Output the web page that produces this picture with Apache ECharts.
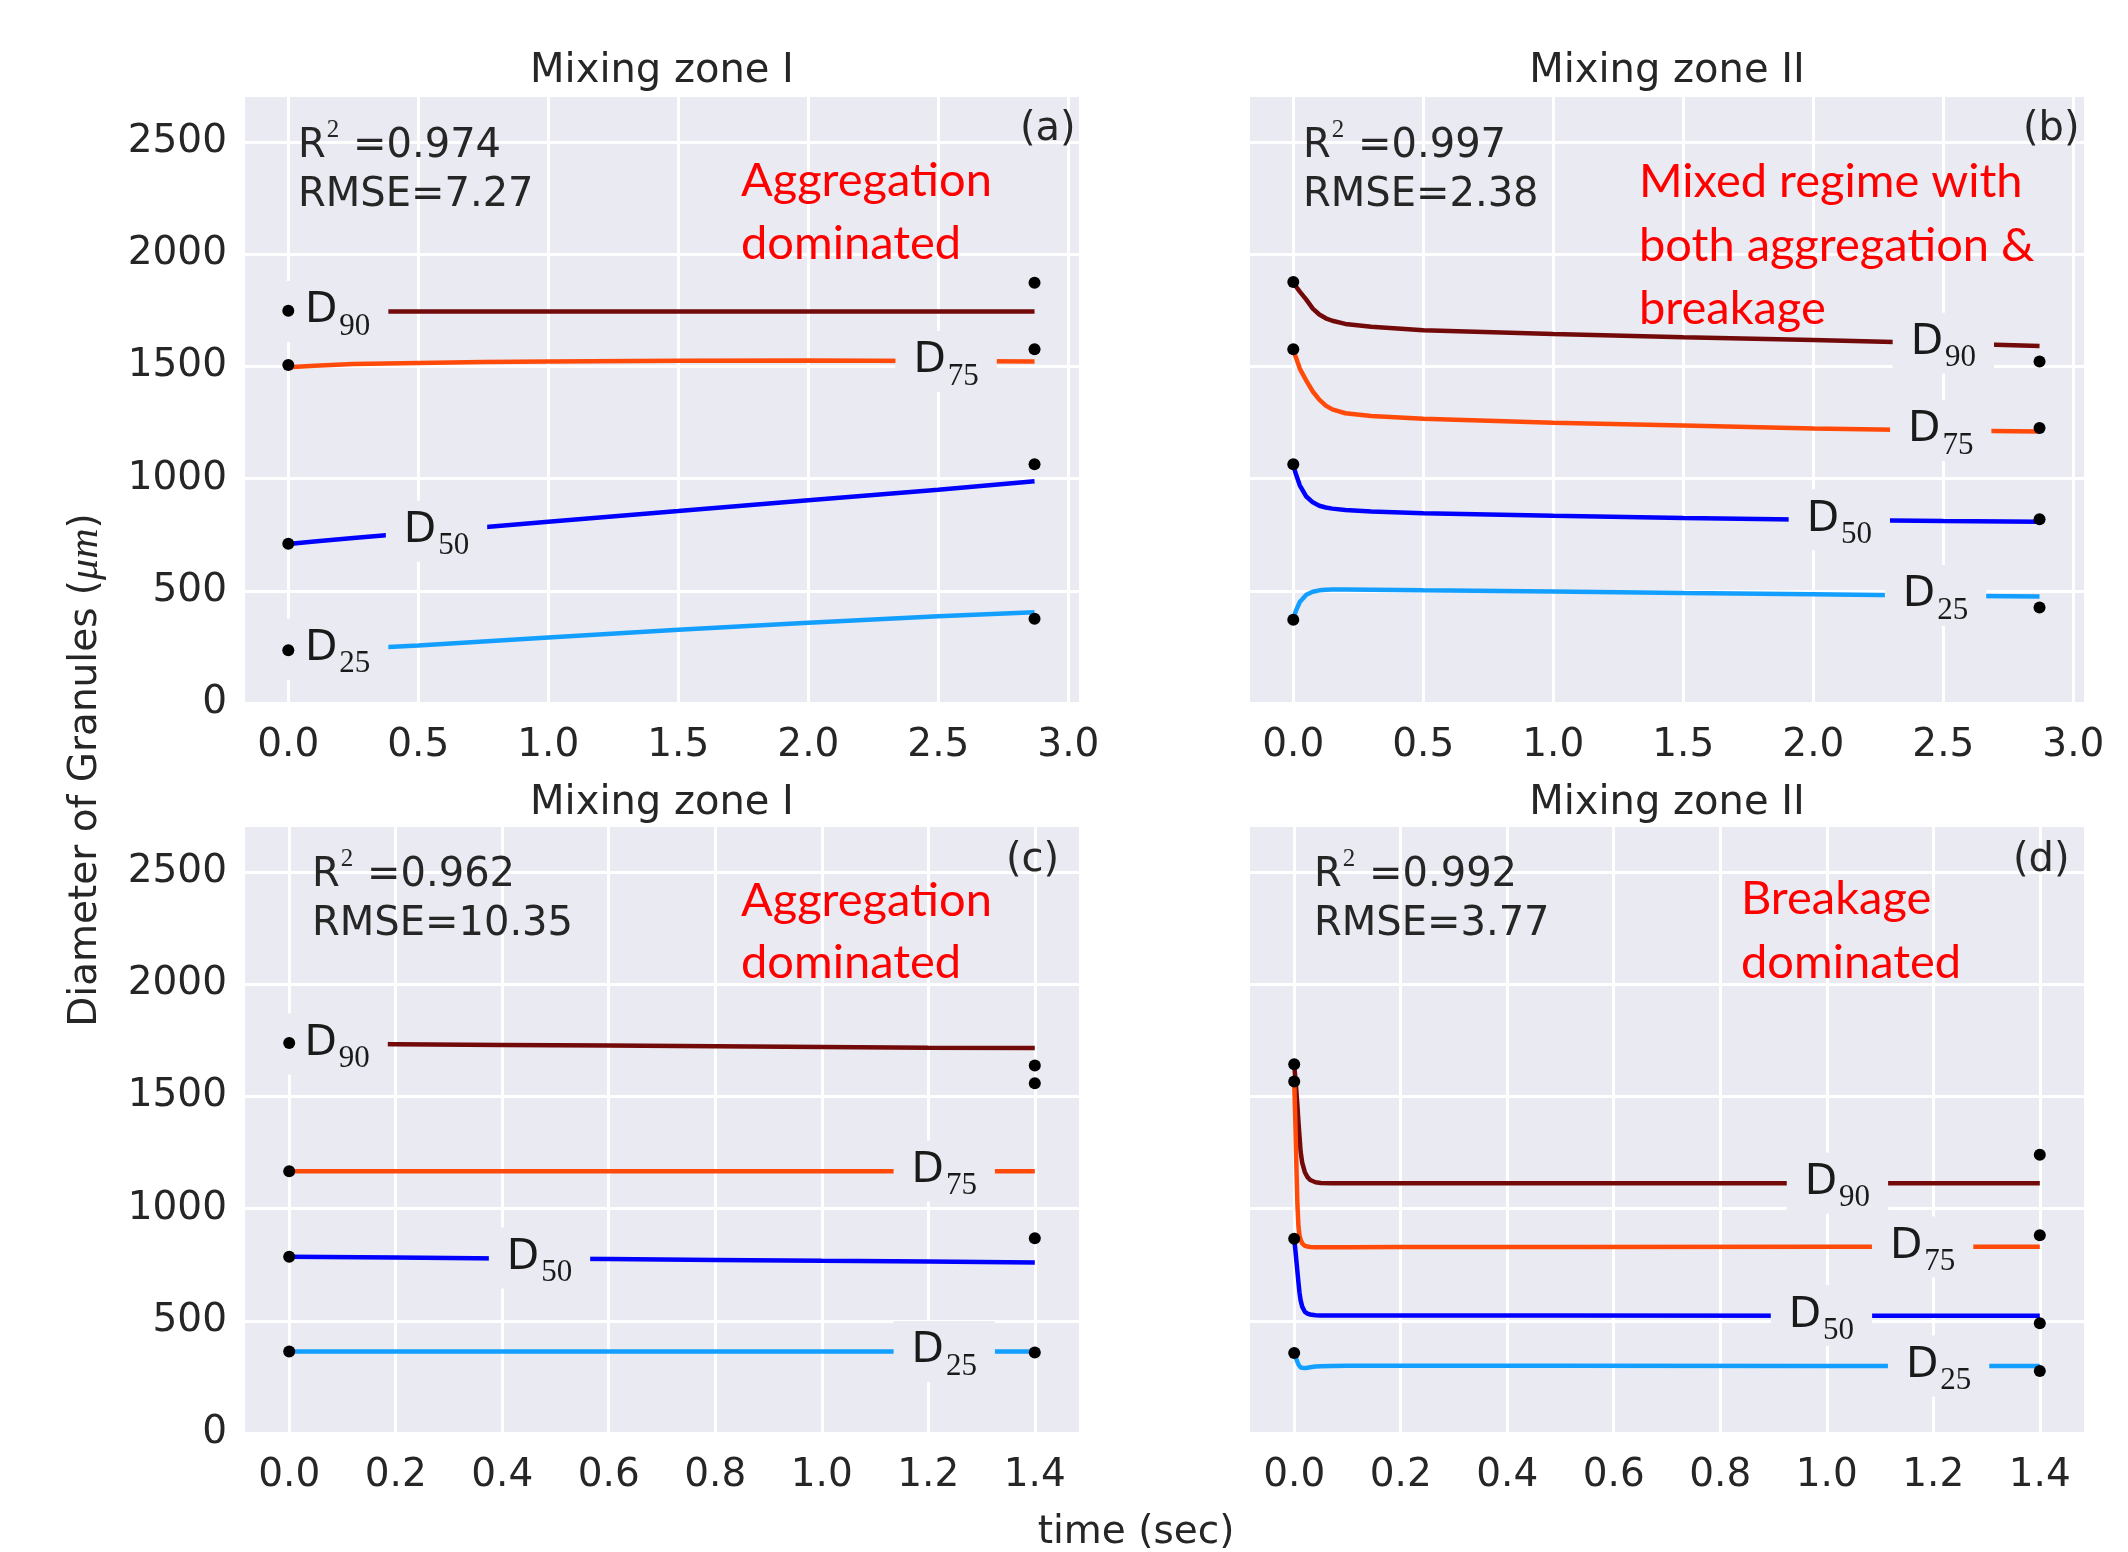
<!DOCTYPE html>
<html><head><meta charset="utf-8">
<script src="https://cdn.jsdelivr.net/npm/echarts@6.0.0/dist/echarts.min.js"></script>
<style>html,body{margin:0;padding:0;background:#fff}#c{width:2128px;height:1552px}</style>
</head><body><div id="c"></div><script>
// ---------- data ----------
const panelTitles = ['Mixing zone I', 'Mixing zone II', 'Mixing zone I', 'Mixing zone II'];
const panelLetters = ['(a)', '(b)', '(c)', '(d)'];
const r2Text = ['0.974', '0.997', '0.962', '0.992'];
const rmseText = ['7.27', '2.38', '10.35', '3.77'];
const regimeText = [
  ['Aggregation', 'dominated'],
  ['Mixed regime with', 'both aggregation &', 'breakage'],
  ['Aggregation', 'dominated'],
  ['Breakage', 'dominated']
];
const seriesNames = ['90', '75', '50', '25'];
const xTicksTop = [0, 0.5, 1.0, 1.5, 2.0, 2.5, 3.0];
const xTicksBottom = [0, 0.2, 0.4, 0.6, 0.8, 1.0, 1.2, 1.4];
const yTicks = [0, 500, 1000, 1500, 2000, 2500];

// panel (a)
const tA = [0, 0.1, 0.25, 0.5, 0.75, 1.0, 1.5, 2.0, 2.5, 2.87];
const aD90 = [1744, 1744, 1744, 1744, 1744, 1744, 1744, 1744, 1744, 1744];
const aD75 = [1496, 1503, 1510, 1515, 1519, 1522, 1525, 1526, 1524, 1522];
const aD50 = [708, 720, 735, 760, 783, 808, 855, 903, 950, 988];
const aD25 = [232, 236, 242, 256, 274, 292, 326, 358, 387, 404];
// panel (b)
const tB = [0, 0.01, 0.025, 0.05, 0.075, 0.1, 0.125, 0.15, 0.2, 0.3, 0.5, 1.0, 1.5, 2.0, 2.5, 2.87];
const bD90 = [1870, 1856, 1833, 1797, 1757, 1731, 1714, 1703, 1689, 1676, 1661, 1644, 1630, 1617, 1603, 1591];
const bD75 = [1570, 1540, 1490, 1436, 1388, 1352, 1325, 1308, 1291, 1279, 1266, 1249, 1236, 1223, 1214, 1210];
const bD50 = [1060, 1020, 970, 920, 894, 879, 871, 866, 860, 853, 845, 834, 824, 816, 811, 808];
const bD25 = [375, 410, 450, 482, 496, 502, 505, 506, 506, 505, 502, 497, 490, 484, 478, 474];
// panel (c)
const tC = [0, 0.2, 0.4, 0.6, 0.8, 1.0, 1.2, 1.40];
const cD90 = [1735, 1732, 1729, 1726, 1723, 1720, 1717, 1715];
const cD75 = [1166, 1166, 1166, 1166, 1166, 1166, 1166, 1166];
const cD50 = [785, 782, 778, 775, 771, 767, 764, 760];
const cD25 = [363, 363, 363, 363, 363, 363, 363, 363];
// panel (d)
const tD = [0, 0.002, 0.004, 0.006, 0.008, 0.01, 0.012, 0.015, 0.02, 0.025, 0.03, 0.04, 0.05, 0.07, 0.1, 0.2, 0.5, 1.0, 1.40];
const dD90 = [1640, 1585, 1525, 1460, 1385, 1320, 1255, 1205, 1162, 1140, 1127, 1117, 1114, 1113, 1113, 1113, 1113, 1113, 1113];
const dD75 = [1566, 1400, 1200, 1020, 920, 880, 862, 845, 834, 831, 829, 828, 828, 828, 828, 829, 829, 830, 830];
const dD50 = [865, 820, 770, 720, 670, 625, 592, 563, 540, 532, 528, 525, 524, 524, 524, 524, 523, 522, 522];
const dD25 = [354, 342, 330, 317, 305, 297, 292, 290, 289, 291, 293, 296, 297, 299, 300, 300, 300, 299, 298];

// measured points (black dots): start at t=0, end at last time
const dotTimes = [[0, 2.87], [0, 2.87], [0, 1.40], [0, 1.40]];
const startDots = [[1748, 1506, 710, 235], [1876, 1576, 1064, 371], [1738, 1166, 785, 363], [1643, 1566, 865, 356]];
const endDots = [[1872, 1576, 1064, 375], [1522, 1225, 819, 425], [1637, 1558, 868, 359], [1240, 881, 489, 276]];

// inline line labels (x, y) in data units
const labelAt = [
  [[0.19, 1744], [2.53, 1522], [0.57, 765], [0.19, 240]],
  [[2.50, 1603], [2.49, 1214], [2.10, 816], [2.47, 479]],
  [[0.09, 1733], [1.23, 1166], [0.47, 780], [1.23, 363]],
  [[1.02, 1113], [1.18, 829], [0.99, 523], [1.21, 299]]
];

const times = [tA, tB, tC, tD];
const values = [[aD90, aD75, aD50, aD25], [bD90, bD75, bD50, bD25], [cD90, cD75, cD50, cD25], [dD90, dD75, dD50, dD25]];

// ---------- styles ----------
const colors = ['#730a0a', '#ff4a0a', '#0000ff', '#139fff'];
const TXT = '#262626';
const BG = '#EAEAF2';
const SANS = 'DejaVu Sans';

const gridPos = [
  {left: 245, top: 97}, {left: 1250, top: 97},
  {left: 245, top: 827}, {left: 1250, top: 827}
];
const xRange = [[-0.1665, 3.041], [-0.1665, 3.041], [-0.083, 1.483], [-0.083, 1.483]];

const grid = gridPos.map(g => ({left: g.left, top: g.top, width: 834, height: 606,
  show: true, backgroundColor: BG, borderWidth: 0}));

const xAxis = gridPos.map((g, i) => {
  const ticks = i < 2 ? xTicksTop : xTicksBottom;
  return {type: 'value', gridIndex: i, min: xRange[i][0], max: xRange[i][1],
    axisLine: {show: false}, axisTick: {show: false, customValues: ticks},
    axisLabel: {customValues: ticks, formatter: v => (+v).toFixed(1), fontFamily: SANS, fontSize: 39, color: TXT, margin: 23},
    splitLine: {show: true, lineStyle: {color: '#ffffff', width: 3}}};
});
const yAxis = gridPos.map((g, i) => ({type: 'value', gridIndex: i, min: 0, max: 2700,
  axisLine: {show: false}, axisTick: {show: false, customValues: yTicks},
  axisLabel: {show: i % 2 === 0, customValues: yTicks, formatter: v => String(Math.round(v)),
    fontFamily: SANS, fontSize: 39, color: TXT, margin: 18},
  splitLine: {show: true, lineStyle: {color: '#ffffff', width: 3}}}));

const series = [];
for (let p = 0; p < 4; p++) {
  for (let k = 0; k < 4; k++) {
    series.push({type: 'line', xAxisIndex: p, yAxisIndex: p, showSymbol: false, symbol: 'none',
      lineStyle: {color: colors[k], width: 4.5}, z: 2, silent: true,
      data: times[p].map((t, j) => [t, values[p][k][j]])});
  }
  // inline labels
  series.push({type: 'scatter', xAxisIndex: p, yAxisIndex: p, symbolSize: 1, z: 5, silent: true,
    itemStyle: {color: BG, opacity: 1},
    data: labelAt[p].map((v, k) => ({value: v, sub: seriesNames[k]})),
    label: {show: true, position: 'inside', backgroundColor: BG, padding: [0, 18, 0, 18], opacity: 1,
      formatter: prm => '{d|D}{s|' + prm.data.sub + '}',
      rich: {d: {fontFamily: SANS, fontSize: 42, color: '#1a1a1a'},
             s: {fontFamily: 'Liberation Serif', fontSize: 31, color: '#1a1a1a', padding: [30, 0, 0, 2]}}}});
  // dots
  const dots = [];
  for (let k = 0; k < 4; k++) {
    dots.push([dotTimes[p][0], startDots[p][k]]);
    dots.push([dotTimes[p][1], endDots[p][k]]);
  }
  series.push({type: 'scatter', xAxisIndex: p, yAxisIndex: p, symbolSize: 12, z: 6, silent: true,
    itemStyle: {color: '#000000', opacity: 1}, data: dots});
}

// ---------- text ----------
const graphic = [];
function addText(x, y, text, o) {
  graphic.push({type: 'text', x: x, y: y, z: 100, silent: true,
    style: Object.assign({text: text, fill: TXT, fontFamily: SANS, fontSize: 40, align: 'left', verticalAlign: 'middle'}, o || {})});
}
const titleY = [72, 72, 804, 804];
const centerX = [662, 1667, 662, 1667];
const r2X = [298, 1303, 312, 1314];
const r2Y = [147, 147, 876, 876];
const letterX = [1020, 2023, 1006, 2013];
const letterY = [130, 130, 861, 861];
const regimeX = [741, 1639, 741, 1741];
const regimeY = [[180.5, 244], [182, 246, 309], [901, 963], [899, 963]];
for (let p = 0; p < 4; p++) {
  addText(centerX[p], titleY[p], panelTitles[p], {align: 'center'});
  addText(r2X[p], r2Y[p], '{n|R}{sup|2}{n| =' + r2Text[p] + '}', {rich: {
    n: {fontFamily: SANS, fontSize: 40, fill: TXT},
    sup: {fontFamily: 'Liberation Serif', fontSize: 25, fill: TXT, padding: [0, 1, 34, 1]}}});
  addText(r2X[p], r2Y[p] + 49, 'RMSE=' + rmseText[p]);
  addText(letterX[p], letterY[p], panelLetters[p]);
  regimeText[p].forEach((s, j) => addText(regimeX[p], regimeY[p][j], s,
    {fill: '#ff0000', fontFamily: 'Lato', fontSize: 47}));
}
addText(1136, 1533, 'time (sec)', {align: 'center', fontSize: 39});
graphic.push({type: 'text', x: 86, y: 770, z: 100, rotation: Math.PI / 2, silent: true,
  style: {text: '{a|Diameter of Granules (}{b|\u03bcm}{a|)}', align: 'center', verticalAlign: 'middle',
    rich: {a: {fontFamily: SANS, fontSize: 39, fill: TXT},
           b: {fontFamily: 'Liberation Serif', fontStyle: 'italic', fontSize: 42, fill: TXT}}}});

const chart = echarts.init(document.getElementById('c'), null, {renderer: 'canvas'});
chart.setOption({animation: false, backgroundColor: '#ffffff', grid, xAxis, yAxis, series, graphic});
</script></body></html>
